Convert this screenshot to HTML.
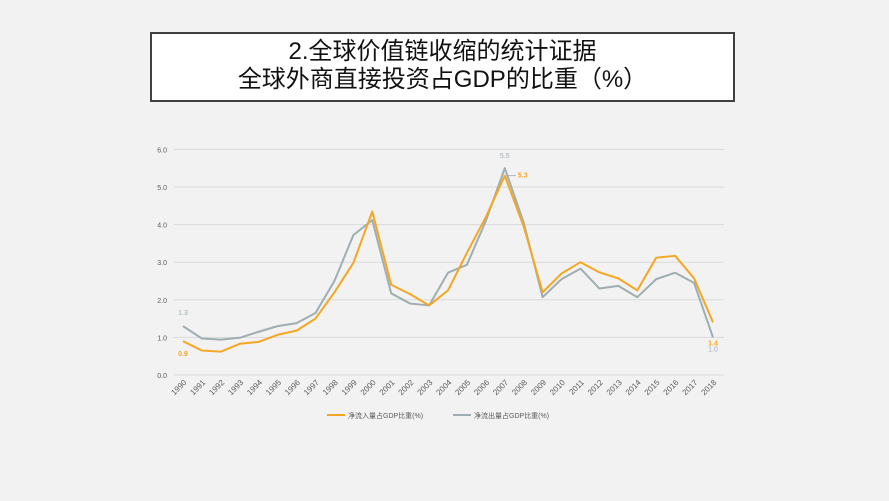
<!DOCTYPE html>
<html><head><meta charset="utf-8">
<style>
body{margin:0;background:#f2f2f2;width:889px;height:501px;overflow:hidden;font-family:"Liberation Sans","Noto Sans CJK SC",sans-serif;}
#title{position:absolute;left:150px;top:32px;width:581px;height:64px;border:2px solid #404040;background:#fff;text-align:center;font-size:24px;line-height:28px;color:#111;padding-top:4px;box-sizing:content-box;height:62px;}
svg{position:absolute;left:0;top:0;}
</style></head><body>
<div id="title">2.全球价值链收缩的统计证据<br>全球外商直接投资占GDP的比重（%）</div>
<svg id="chart" width="889" height="501"></svg>
<script>
const years=["1990","1991","1992","1993","1994","1995","1996","1997","1998","1999","2000","2001","2002","2003","2004","2005","2006","2007","2008","2009","2010","2011","2012","2013","2014","2015","2016","2017","2018"];
const inflow=[0.9,0.65,0.62,0.83,0.88,1.07,1.18,1.5,2.2,2.98,4.35,2.4,2.15,1.85,2.25,3.25,4.2,5.3,3.95,2.2,2.7,3.0,2.73,2.57,2.25,3.12,3.17,2.57,1.4];
const outflow=[1.3,0.97,0.94,0.99,1.15,1.3,1.38,1.65,2.5,3.72,4.12,2.17,1.9,1.85,2.72,2.93,4.1,5.5,4.05,2.07,2.55,2.83,2.3,2.37,2.07,2.55,2.72,2.45,1.0];
const yTicks=[0,1,2,3,4,5,6];
const yTickLabels=["0.0","1.0","2.0","3.0","4.0","5.0","6.0"];
const seriesNames=["净流入量占GDP比重(%)","净流出量占GDP比重(%)"];
const svg=document.getElementById('chart');const NS='http://www.w3.org/2000/svg';
function xs(i){return 183+i*(530/28);}
function ys(v){return 375-v*37.6;}
function mk(t,a,p){const e=document.createElementNS(NS,t);for(const k in a)e.setAttribute(k,a[k]);(p||svg).appendChild(e);return e;}
yTicks.forEach((v,i)=>{
 const g=mk('line',{x1:174,x2:724,y1:ys(v),y2:ys(v),stroke:'#d9d9d9','stroke-width':1});
 
 
 const t=mk('text',{x:167,y:ys(v)+3,'text-anchor':'end','font-size':7,fill:'#595959'});t.textContent=yTickLabels[i];
 
 
});
years.forEach((y,i)=>{
 const t=mk('text',{x:xs(i)+4,y:383,'text-anchor':'end','font-size':8,fill:'#595959',transform:`rotate(-45 ${xs(i)+4} 383)`});t.textContent=y;
 
 
});
function line(data,color,name){
 const p=mk('polyline',{points:data.map((v,i)=>xs(i)+','+ys(v)).join(' '),fill:'none',stroke:color,'stroke-width':2,'stroke-linejoin':'round'});
 
 
}
line(outflow,'#9eaeb2','outflow-line');
line(inflow,'#f5a623','inflow-line');
function lab(x,y,txt,color,bold,name){const t=mk('text',{x:x,y:y,'text-anchor':'middle','font-size':7,fill:color,'font-weight':bold?'bold':'normal'});t.textContent=txt;
 
 }
const n=years.length-1;
lab(xs(0),ys(outflow[0])-11,outflow[0].toFixed(1),'#9eaeb2',false,'label-outflow-start');
lab(xs(0),ys(inflow[0])+15,inflow[0].toFixed(1),'#f5a623',true,'label-inflow-start');
lab(xs(17),ys(outflow[17])-10,outflow[17].toFixed(1),'#9eaeb2',false,'label-outflow-peak');
mk('line',{x1:xs(17)+3,x2:xs(17)+11,y1:ys(inflow[17]),y2:ys(inflow[17]),stroke:'#999','stroke-width':0.7});
lab(xs(17)+18,ys(inflow[17])+2,inflow[17].toFixed(1),'#f5a623',true,'label-inflow-peak');
lab(xs(n),ys(inflow[n])+23,inflow[n].toFixed(1),'#f5a623',true,'label-inflow-end');
lab(xs(n),ys(outflow[n])+14,outflow[n].toFixed(1),'#9eaeb2',false,'label-outflow-end');
[[327,'#f5a623',0],[453,'#9eaeb2',1]].forEach(([x,c,i])=>{
 const g=mk('g',{});
 
 
 mk('line',{x1:x,x2:x+18,y1:415,y2:415,stroke:c,'stroke-width':2},g);
 const t=mk('text',{x:x+21,y:418,'font-size':7,fill:'#595959'},g);t.textContent=seriesNames[i];
});
</script>
</body></html>
